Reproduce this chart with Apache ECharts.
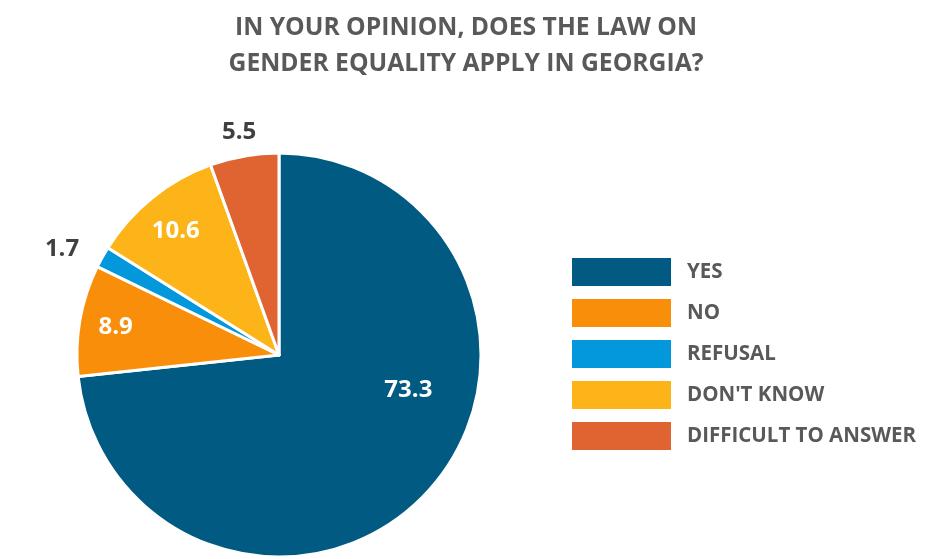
<!DOCTYPE html>
<html>
<head>
<meta charset="utf-8">
<script src="https://cdn.jsdelivr.net/npm/echarts@6/dist/echarts.min.js"></script>
<style>
  html, body { margin: 0; padding: 0; background: #fff; }
  #chart { width: 932px; height: 559px; }
</style>
</head>
<body>
<div id="chart"></div>
<script>
// data
const categories = ['YES', 'NO', 'REFUSAL', "DON'T KNOW", 'DIFFICULT TO ANSWER'];
const values = [73.3, 8.9, 1.7, 10.6, 5.5];
const colors = ['#015a82', '#f98e0a', '#0397db', '#fcb419', '#e06432'];

// label look per slice (white inside, grey outside) and nudges from the default spot
const labelColors = ['#fff', '#fff', '#404040', '#fff', '#404040'];
const labelNudge = [[52, -34], [-61, -10], [-126, -55], [-38, -43], [-22, -120]];

const chart = echarts.init(document.getElementById('chart'));
const font = 'Open Sans';

chart.setOption({
  animation: false,
  title: {
    text: 'IN YOUR OPINION, DOES THE LAW ON\nGENDER EQUALITY APPLY IN GEORGIA?',
    left: 461,
    top: 5,
    textAlign: 'center',
    textStyle: {
      fontFamily: font,
      fontWeight: 'bold',
      fontSize: 24.7,
      lineHeight: 36,
      color: '#595959'
    }
  },
  legend: {
    orient: 'vertical',
    left: 570,
    top: 256,
    padding: 0,
    itemWidth: 101,
    itemHeight: 30,
    itemGap: 9,
    icon: 'rect',
    selectedMode: false,
    data: categories,
    textStyle: {
      fontFamily: font,
      fontWeight: 'bold',
      fontSize: 20.5,
      lineHeight: 30,
      color: '#595959',
      padding: [0, 0, 0, 10]
    }
  },
  series: [{
    type: 'pie',
    center: [279, 355],
    radius: 202,
    startAngle: 90,
    clockwise: true,
    avoidLabelOverlap: false,
    itemStyle: { borderColor: '#fff', borderWidth: 3 },
    label: {
      show: true,
      position: 'inside',
      formatter: p => p.value.toFixed(1),
      fontFamily: font,
      fontWeight: 'bold',
      fontSize: 24
    },
    labelLine: { show: false },
    labelLayout: p => ({ dx: labelNudge[p.dataIndex][0], dy: labelNudge[p.dataIndex][1] }),
    emphasis: { disabled: true },
    data: categories.map((name, i) => ({
      name: name,
      value: values[i],
      itemStyle: { color: colors[i] },
      label: { color: labelColors[i] }
    }))
  }]
});
</script>
</body>
</html>
